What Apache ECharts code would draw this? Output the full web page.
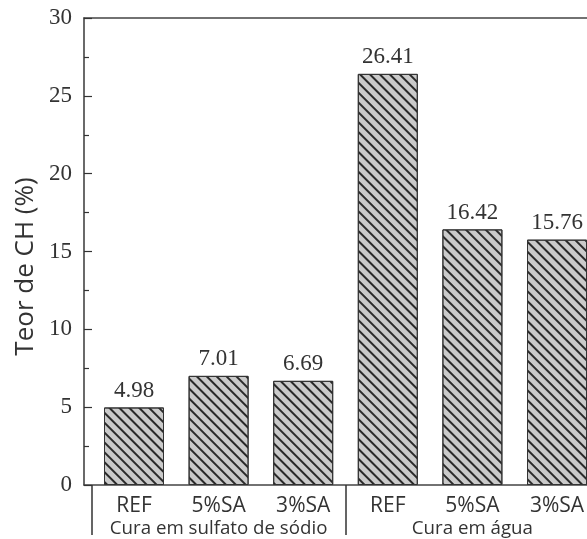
<!DOCTYPE html>
<html>
<head>
<meta charset="utf-8">
<script src="https://cdn.jsdelivr.net/npm/echarts@6/dist/echarts.min.js"></script>
<style>
  html, body { margin: 0; padding: 0; background: #fff; }
  #chart { width: 587px; height: 539px; }
</style>
</head>
<body>
<div id="chart"></div>
<script>
// Calcium hydroxide (CH) content by mix and curing condition
const categories = ['REF', '5%SA', '3%SA', 'REF', '5%SA', '3%SA'];
const groups = ['Cura em sulfato de sódio', 'Cura em água'];
const chValues = [4.98, 7.01, 6.69, 26.41, 16.42, 15.76];
const yMin = 0;
const yMax = 30;
const yStep = 5;

const serif = 'Liberation Serif';
const sans = 'Open Sans';
const ink = '#333';

const chart = echarts.init(document.getElementById('chart'), null, { renderer: 'canvas' });

chart.setOption({
  backgroundColor: '#fff',
  animation: false,
  grid: [
    // plotting area for the bars (runs past the right edge of the canvas)
    { left: 91.7, width: 507.6, top: 18, bottom: 54, containLabel: false, outerBoundsMode: 'none' },
    // frame lines starting at the y axis
    { left: 84, width: 520, top: 18, bottom: 54, containLabel: false, outerBoundsMode: 'none' }
  ],
  xAxis: [
    {
      type: 'category',
      gridIndex: 0,
      data: categories,
      position: 'bottom',
      axisLine: { show: false },
      axisTick: { show: true, inside: true, alignWithLabel: true, length: 5, lineStyle: { color: ink, width: 1.2 } },
      axisLabel: { interval: 0, margin: 11, fontFamily: sans, fontSize: 21, color: ink, hideOverlap: false }
    },
    {
      type: 'category',
      gridIndex: 0,
      data: groups,
      position: 'bottom',
      axisLine: { show: false },
      axisTick: { show: true, inside: false, interval: 0, length: 50, lineStyle: { color: ink, width: 1.5 } },
      axisLabel: { interval: 0, margin: 34, fontFamily: sans, fontSize: 18.7, color: ink }
    },
    {
      type: 'value', gridIndex: 1, min: 0, max: 1, position: 'bottom',
      axisLine: { show: true, lineStyle: { color: '#444', width: 1.6 } },
      axisTick: { show: false }, axisLabel: { show: false }, splitLine: { show: false }
    },
    {
      type: 'value', gridIndex: 1, min: 0, max: 1, position: 'top',
      axisLine: { show: true, lineStyle: { color: '#444', width: 1.6 } },
      axisTick: { show: false }, axisLabel: { show: false }, splitLine: { show: false }
    }
  ],
  yAxis: [
    {
      type: 'value',
      gridIndex: 0,
      min: yMin,
      max: yMax,
      interval: yStep,
      offset: 7.7,
      name: 'Teor de CH (%)',
      nameLocation: 'middle',
      nameGap: 44,
      nameTextStyle: { fontFamily: sans, fontSize: 26, color: ink, padding: [0, 30, 0, 0] },
      axisLine: { show: true, lineStyle: { color: '#444', width: 1.6 } },
      axisTick: { show: true, inside: true, length: 8, lineStyle: { color: ink, width: 1.2 } },
      minorTick: { show: true, splitNumber: 2, length: 5, lineStyle: { color: ink, width: 1.2 } },
      axisLabel: { margin: 12, fontFamily: serif, fontSize: 23, color: ink },
      splitLine: { show: false }
    },
    { type: 'value', gridIndex: 1, min: 0, max: 1, show: false }
  ],
  series: [
    {
      type: 'bar',
      xAxisIndex: 0,
      yAxisIndex: 0,
      data: chValues,
      barWidth: 60,
      itemStyle: {
        color: '#cacaca',
        borderColor: '#333',
        borderWidth: 1,
        decal: {
          symbol: 'rect',
          symbolSize: 1,
          color: '#2a2a2a',
          dashArrayX: [1, 0],
          dashArrayY: [1.2, 4.9],
          rotation: Math.PI / 4
        }
      },
      label: {
        show: true,
        position: 'top',
        distance: 5,
        fontFamily: serif,
        fontSize: 23,
        color: ink,
        formatter: p => p.value.toFixed(2)
      }
    }
  ]
});
</script>
</body>
</html>
